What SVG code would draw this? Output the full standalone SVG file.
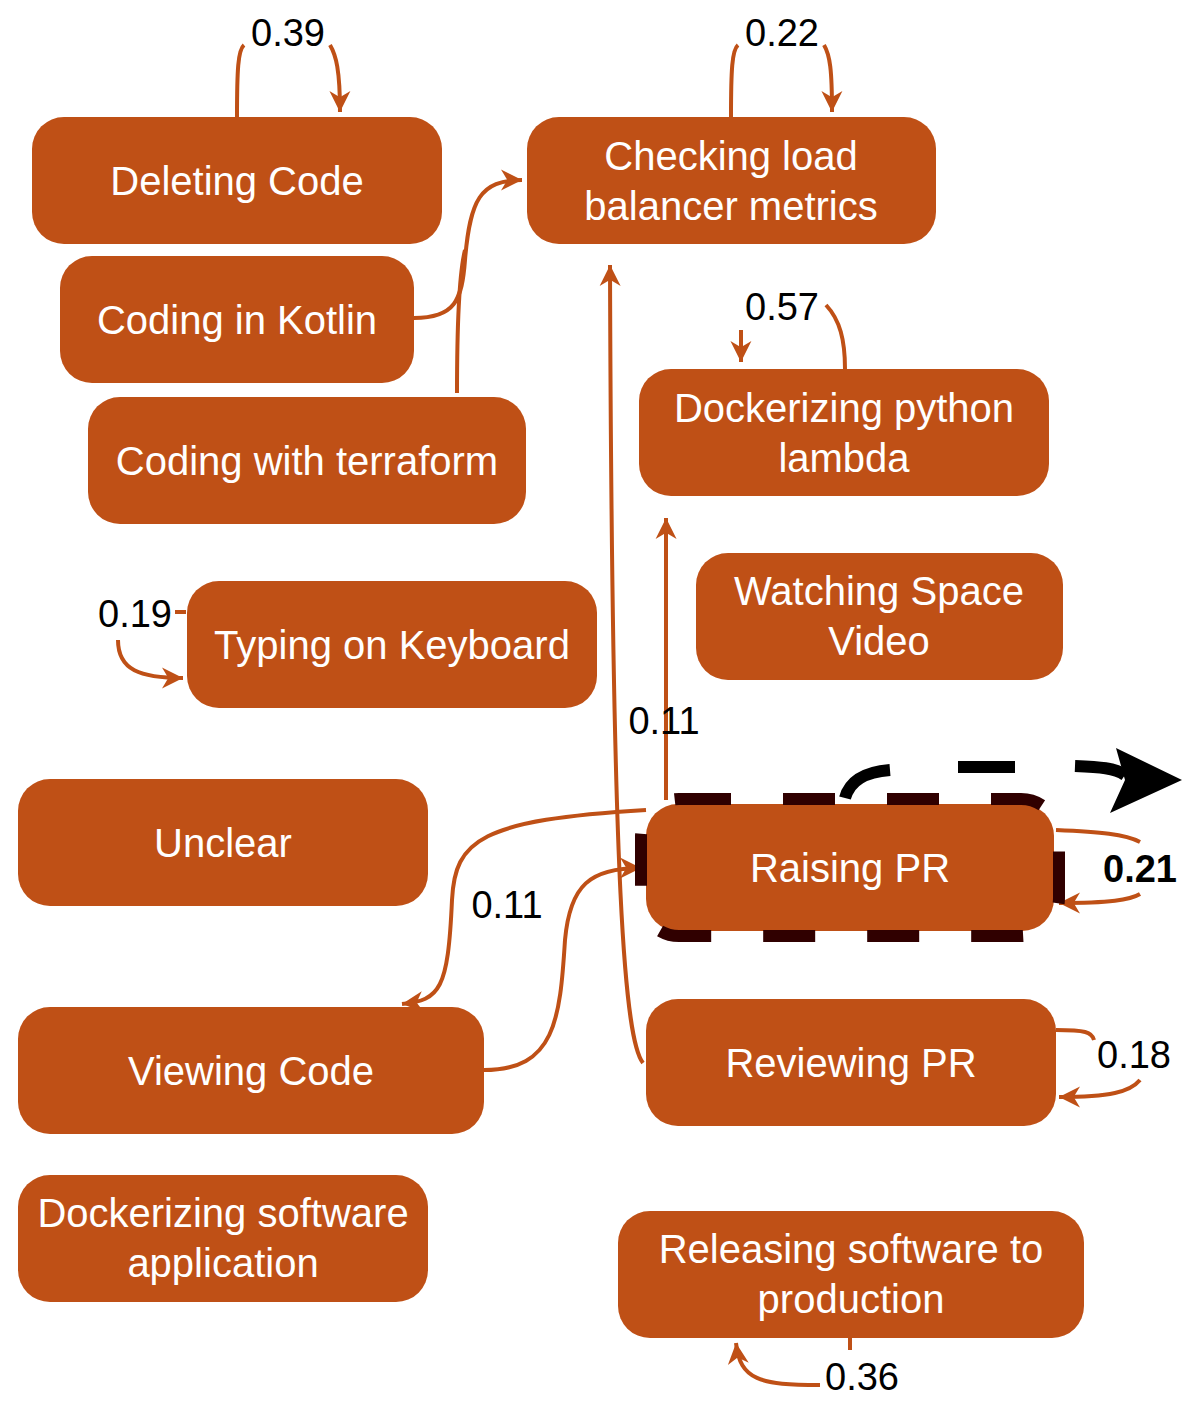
<svg xmlns="http://www.w3.org/2000/svg" width="1200" height="1408" viewBox="0 0 1200 1408">
<style>
.n rect{fill:#BF5016}
.n text{fill:#fff;font-family:"Liberation Sans",Arial,sans-serif;font-size:40px;text-anchor:middle}
.e path{fill:none;stroke:#BF5016;stroke-width:4}
.l{font-family:"Liberation Sans",Arial,sans-serif;font-size:38px;fill:#000;text-anchor:middle}
</style>
<defs>
<marker id="a" viewBox="0 0 10 10" refX="9" refY="5" markerWidth="7" markerHeight="7" orient="auto" markerUnits="userSpaceOnUse" style="overflow:visible">
<path d="M0,0 L10,5 L0,10 L3,5 Z" fill="#BF5016" transform="scale(3) translate(-7,-3.3)"/>
</marker>
<marker id="b" viewBox="0 0 10 10" refX="10" refY="5" markerWidth="22" markerHeight="22" orient="auto" markerUnits="userSpaceOnUse" style="overflow:visible">
<path d="M0,0 L10,5 L0,10 L3,5 Z" fill="#000" transform="scale(3) translate(-10,-3.3)"/>
</marker>
</defs>
<g id="connectors" class="e">
<path d="M237,117 C237,70 238,50 244,45" /><path d="M330,45 C336,55 340,70 340,112" marker-end="url(#a)"/>
<path d="M731,117 C731,70 732,50 738,45"/><path d="M824,45 C830,55 832,70 832,112" marker-end="url(#a)"/>
<path d="M414,318 C455,318 462,300 465,260 C470,200 480,180 522,180" marker-end="url(#a)"/>
<path d="M457,393 C457,320 460,270 465,250"/>
<path d="M845,369 C845,340 840,320 826,305"/><path d="M741,330 L741,362" marker-end="url(#a)"/>
<path d="M666,800 L666,518" marker-end="url(#a)"/>
<path d="M643,1063 C625,1040 612,900 610,265" marker-end="url(#a)"/>
<path d="M175,612 L186,612"/><path d="M118,640 C118,670 140,678 183,678" marker-end="url(#a)"/>
<path d="M646,810 C480,820 455,840 452,900 C448,990 440,1000 402,1004" marker-end="url(#a)"/>
<path d="M484,1070 C555,1070 560,1020 565,940 C570,885 590,868 641,868" marker-end="url(#a)"/>
<path d="M1056,830 C1100,832 1125,834 1140,842"/><path d="M1140,894 C1130,900 1110,903 1059,903" marker-end="url(#a)"/>
<path d="M1056,1030 C1085,1030 1092,1032 1094,1040"/><path d="M1140,1080 C1130,1092 1110,1097 1059,1097" marker-end="url(#a)"/>
<path d="M850,1338 L850,1350"/><path d="M820,1385 C760,1385 740,1380 736,1343" marker-end="url(#a)"/>
</g>
<g id="n1" class="n"><rect x="32" y="117" width="410" height="127" rx="32"/><text x="237" y="195">Deleting Code</text></g>
<g id="n2" class="n"><rect x="527" y="117" width="409" height="127" rx="32"/><text x="731" y="170">Checking load</text><text x="731" y="220">balancer metrics</text></g>
<g id="n3" class="n"><rect x="60" y="256" width="354" height="127" rx="32"/><text x="237" y="334">Coding in Kotlin</text></g>
<g id="n4" class="n"><rect x="88" y="397" width="438" height="127" rx="32"/><text x="307" y="475">Coding with terraform</text></g>
<g id="n5" class="n"><rect x="639" y="369" width="410" height="127" rx="32"/><text x="844" y="422">Dockerizing python</text><text x="844" y="472">lambda</text></g>
<g id="n6" class="n"><rect x="187" y="581" width="410" height="127" rx="32"/><text x="392" y="659">Typing on Keyboard</text></g>
<g id="n7" class="n"><rect x="696" y="553" width="367" height="127" rx="32"/><text x="879" y="605">Watching Space</text><text x="879" y="655">Video</text></g>
<g id="n8" class="n"><rect x="18" y="779" width="410" height="127" rx="32"/><text x="223" y="857">Unclear</text></g>
<g id="n9" class="n"><rect x="646" y="804" width="408" height="127" rx="32"/><text x="850" y="882">Raising PR</text></g>
<g id="n10" class="n"><rect x="18" y="1007" width="466" height="127" rx="32"/><text x="251" y="1085">Viewing Code</text></g>
<g id="n11" class="n"><rect x="646" y="999" width="410" height="127" rx="32"/><text x="851" y="1077">Reviewing PR</text></g>
<g id="n12" class="n"><rect x="18" y="1175" width="410" height="127" rx="32"/><text x="223" y="1227">Dockerizing software</text><text x="223" y="1277">application</text></g>
<g id="n13" class="n"><rect x="618" y="1211" width="466" height="127" rx="32"/><text x="851" y="1263">Releasing software to</text><text x="851" y="1313">production</text></g>
<g id="highlight">
<rect x="641" y="799" width="418" height="137" rx="38" fill="none" stroke="#300000" stroke-width="12" stroke-dasharray="52,52"/>
<path d="M845,798 C850,780 865,772 890,770 M958,767 L1015,767 M1075,766 C1100,767 1115,768 1125,775" fill="none" stroke="#000" stroke-width="12"/>
<path d="M1116,748 L1182,780 L1110,813 L1125,780 Z" fill="#000"/>
</g>
<g id="labels">
<text class="l" x="288" y="46">0.39</text>
<text class="l" x="782" y="46">0.22</text>
<text class="l" x="782" y="320">0.57</text>
<text class="l" x="135" y="627">0.19</text>
<text class="l" x="664" y="734">0.11</text>
<text class="l" x="507" y="918">0.11</text>
<text class="l" x="1140" y="882" font-weight="bold">0.21</text>
<text class="l" x="1134" y="1068">0.18</text>
<text class="l" x="862" y="1390">0.36</text>
</g>
</svg>
